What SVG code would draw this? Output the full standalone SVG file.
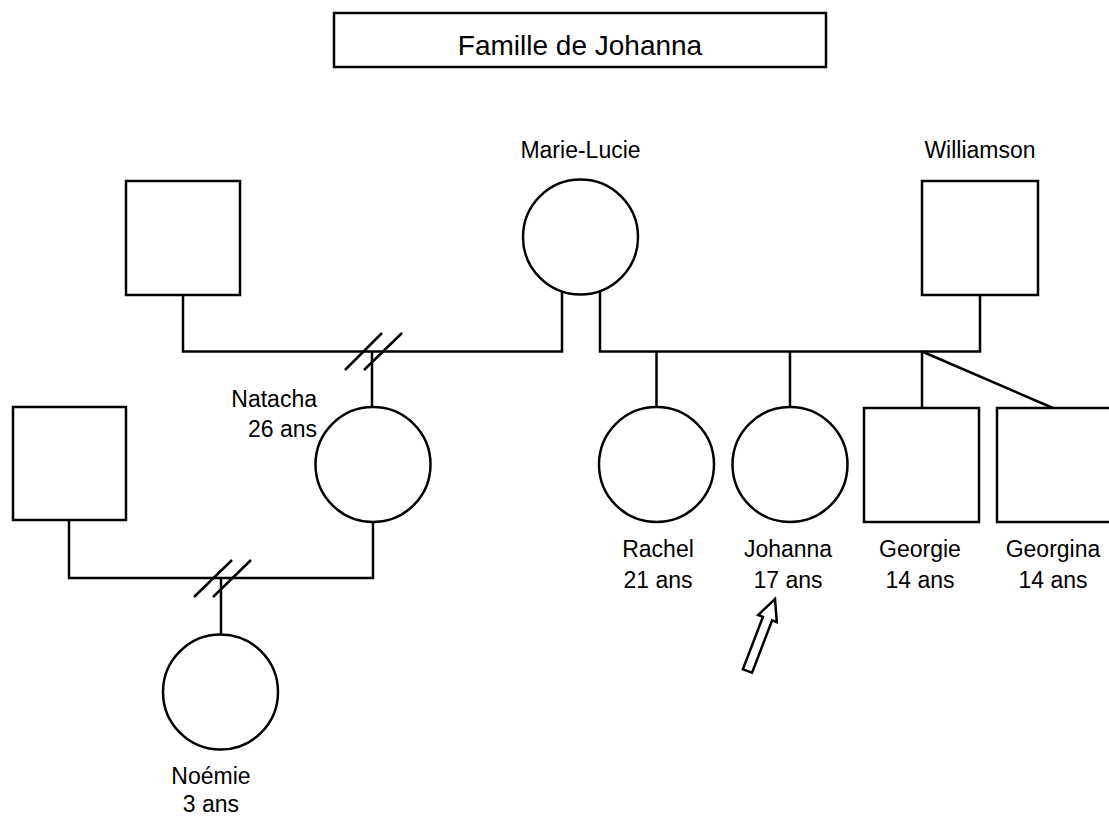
<svg xmlns="http://www.w3.org/2000/svg" width="1109" height="819" viewBox="0 0 1109 819">
<style>
.shape{fill:#fff;stroke:#000;stroke-width:2.5}
.ln{fill:none;stroke:#000;stroke-width:2.5;stroke-linejoin:miter}
.lbl{font-family:"Liberation Sans",Arial,sans-serif;font-size:23px;fill:#000;text-anchor:middle}
.title{font-family:"Liberation Sans",Arial,sans-serif;font-size:28px;fill:#000;text-anchor:middle}
</style>
<rect width="1109" height="819" fill="#fff"/>
<g id="title">
<rect class="shape" x="334" y="13" width="492" height="54"/>
<text class="title" x="580" y="55">Famille de Johanna</text>
</g>
<g id="connectors">
<path class="ln" d="M183 295 V351.5 H562 V291"/>
<path class="ln" d="M600 291 V351.5 H980 V295"/>
<path class="ln" d="M372 351.5 V407"/>
<path class="ln" d="M656.5 351.5 V407"/>
<path class="ln" d="M790 351.5 V407"/>
<path class="ln" d="M922 351.5 V408"/>
<path class="ln" d="M922 351.5 L1053 408"/>
<path class="ln" d="M69 520 V578 H373 V522"/>
<path class="ln" d="M221 578 V635"/>
<path class="ln" d="M345 370 L382 333 M364 370 L402 333"/>
<path class="ln" d="M194 597 L232 560 M213 597 L251 560"/>
<polygon class="shape" stroke-width="2" points="775,599 776.8,622.2 772.1,620.3 752.1,672.7 742.9,669.3 762.9,616.9 758.2,615"/>
</g>
<g id="pere-natacha">
<rect class="shape" x="126" y="181" width="114" height="114"/>
</g>
<g id="marie-lucie">
<circle class="shape" cx="580.5" cy="237" r="57.5"/>
<text class="lbl" x="580.5" y="158">Marie-Lucie</text>
</g>
<g id="williamson">
<rect class="shape" x="922" y="181" width="116" height="114"/>
<text class="lbl" x="980" y="158">Williamson</text>
</g>
<g id="natacha">
<circle class="shape" cx="373" cy="464.5" r="57.5"/>
<text class="lbl" style="text-anchor:end" x="317" y="407">Natacha</text>
<text class="lbl" style="text-anchor:end" x="317" y="437">26 ans</text>
</g>
<g id="pere-noemie">
<rect class="shape" x="13" y="407" width="113" height="113"/>
</g>
<g id="noemie">
<circle class="shape" cx="220.5" cy="692" r="57.5"/>
<text class="lbl" x="211" y="784">Noémie</text>
<text class="lbl" x="211" y="812">3 ans</text>
</g>
<g id="rachel">
<circle class="shape" cx="656.5" cy="464.5" r="57.5"/>
<text class="lbl" x="658" y="557">Rachel</text>
<text class="lbl" x="658" y="588">21 ans</text>
</g>
<g id="johanna">
<circle class="shape" cx="790" cy="464.5" r="57.5"/>
<text class="lbl" x="788" y="557">Johanna</text>
<text class="lbl" x="788" y="588">17 ans</text>
</g>
<g id="georgie">
<rect class="shape" x="864" y="408" width="115" height="114"/>
<text class="lbl" x="920" y="557">Georgie</text>
<text class="lbl" x="920" y="588">14 ans</text>
</g>
<g id="georgina">
<rect class="shape" x="997" y="408" width="130" height="114"/>
<text class="lbl" x="1053" y="557">Georgina</text>
<text class="lbl" x="1053" y="588">14 ans</text>
</g>
</svg>
